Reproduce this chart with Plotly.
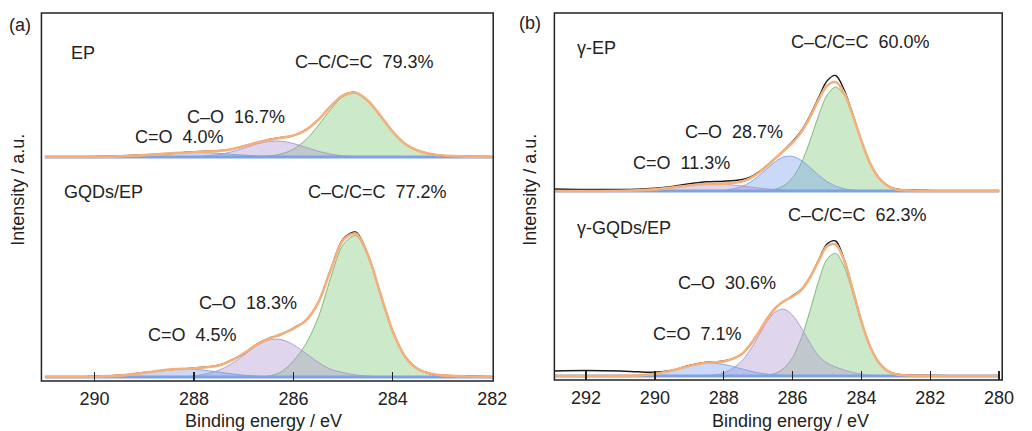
import plotly.graph_objects as go

W, H = 1032, 431

# ---------------- data (intensities above each spectrum's baseline, a.u.) ----------------
energy_a = [291.0, 290.5, 290.0, 289.5, 289.0, 288.5, 288.0, 287.5, 287.25, 287.0, 286.75, 286.5,
            286.25, 286.0, 285.75, 285.5, 285.25, 285.0, 284.75, 284.5, 284.25, 284.0, 283.75,
            283.5, 283.25, 283.0, 282.5, 282.0]

ep_cc = [0, 0, 0, 0, 0, 0, 0, 0, 0.01, 0.06, 0.25, 0.95, 3.0, 7.9, 17.2, 31.4, 47.7, 60.4, 63.8,
         56.1, 41.2, 25.2, 12.9, 6.5, 3.0, 1.5, 0.4, 0.1]
ep_co = [0, 0, 0, 0, 0, 0.02, 0.3, 2.5, 5.1, 8.8, 12.8, 15.5, 15.8, 13.5, 9.6, 5.8, 2.9, 1.2, 0.4,
         0.1, 0, 0, 0, 0, 0, 0, 0, 0]
ep_cdo = [0, 0.03, 0.13, 0.6, 1.85, 3.6, 4.5, 3.6, 2.7, 1.85, 1.1, 0.6, 0.3, 0.13, 0.05, 0, 0, 0,
          0, 0, 0, 0, 0, 0, 0, 0, 0, 0]
ep_fit = [0.0, 0.0, 0.1, 0.6, 1.9, 3.6, 4.8, 6.1, 7.8, 10.7, 14.2, 17.1, 19.1, 21.5, 26.9, 37.2,
          50.6, 61.6, 64.2, 56.2, 41.2, 25.2, 12.9, 6.5, 3.0, 1.5, 0.4, 0.1]
ep_raw = [0.3, 0.2, 0.4, 0.9, 2.2, 3.4, 5.2, 6.4, 7.6, 11.0, 14.0, 17.4, 19.5, 21.3, 27.3, 37.0,
          50.9, 62.0, 64.6, 56.0, 41.5, 25.0, 13.2, 6.3, 3.2, 1.3, 0.6, 0.2]

gep_cc = [0, 0, 0, 0, 0, 0, 0, 0, 0, 0.03, 0.17, 0.85, 5.0, 16.0, 33.0, 59.6, 99.2, 132.3, 141.4,
          121.0, 83.1, 45.6, 20.1, 8.0, 3.5, 1.6, 0.5, 0.1]
gep_co = [0, 0, 0, 0, 0, 0.09, 1.05, 6.7, 13.1, 21.8, 30.8, 36.9, 37.5, 32.3, 23.6, 14.7, 7.7, 4.5,
          2.0, 0.8, 0.2, 0, 0, 0, 0, 0, 0, 0]
gep_cdo = [0, 0.04, 0.3, 1.4, 4.2, 7.3, 7.7, 4.9, 3.2, 1.8, 0.9, 0.4, 0.2, 0.1, 0, 0, 0, 0, 0, 0,
           0, 0, 0, 0, 0, 0, 0, 0]
gep_fit = [0.0, 0.04, 0.3, 1.4, 4.2, 7.4, 8.75, 11.6, 16.3, 23.6, 31.9, 38.2, 42.7, 48.4, 56.6,
           74.3, 106.9, 136.8, 143.4, 121.8, 83.3, 45.6, 20.1, 8.0, 3.5, 1.6, 0.5, 0.1]
gep_raw = [0.4, 0.3, 0.6, 1.8, 4.5, 7.2, 9.1, 11.9, 16.8, 23.2, 32.4, 38.6, 42.5, 49.0, 56.2, 74.8,
           107.5, 138.0, 145.0, 122.5, 83.0, 45.2, 20.6, 8.3, 3.3, 1.8, 0.7, 0.3]

energy_b = [293.0, 292.0, 291.0, 290.5, 290.0, 289.5, 289.0, 288.5, 288.0, 287.5, 287.25, 287.0,
            286.75, 286.5, 286.25, 286.0, 285.75, 285.5, 285.25, 285.0, 284.75, 284.5, 284.25,
            284.0, 283.75, 283.5, 283.25, 283.0, 282.5, 282.0, 281.0, 280.0]

yep_cc = [0, 0, 0, 0, 0, 0, 0, 0, 0, 0, 0, 0.13, 0.5, 1.8, 5.4, 13.3, 27.8, 49.6, 74.8, 95.8, 104.0,
          95.8, 74.8, 49.6, 27.8, 13.3, 5.4, 1.8, 0.3, 0, 0, 0]
yep_co = [0, 0, 0, 0, 0, 0, 0, 0.07, 0.7, 4.2, 8.4, 14.6, 22.2, 29.4, 34.2, 34.6, 30.7, 23.7, 16.0,
          9.5, 4.9, 2.2, 0.9, 0.3, 0.1, 0, 0, 0, 0, 0, 0, 0]
yep_cdo = [0, 0, 0.18, 0.6, 1.65, 3.4, 5.5, 6.9, 6.7, 5.1, 4.0, 3.0, 2.1, 1.4, 0.85, 0.5, 0.27,
           0.14, 0.07, 0, 0, 0, 0, 0, 0, 0, 0, 0, 0, 0, 0, 0]
yep_fit = [0, 0, 0.2, 0.6, 1.65, 3.4, 5.5, 7.0, 7.4, 9.3, 12.4, 17.7, 24.8, 32.6, 40.5, 48.4, 58.8,
           73.4, 90.9, 105.3, 108.9, 98.0, 75.7, 49.9, 27.9, 13.3, 5.4, 1.8, 0.3, 0, 0, 0]
yep_raw = [2.0, 1.5, 1.6, 1.8, 2.8, 4.6, 7.2, 9.2, 9.8, 11.2, 13.6, 18.6, 25.4, 33.0, 41.0, 49.6,
           60.0, 75.0, 93.0, 110.0, 115.5, 101.0, 76.5, 50.2, 28.0, 13.6, 5.6, 2.0, 0.7, 0.4, 0.2, 0.2]

ygep_cc = [0, 0, 0, 0, 0, 0, 0, 0, 0, 0, 0, 0.2, 0.8, 2.7, 7.7, 18.5, 37.5, 64.5, 94.2, 116.7, 122.6,
           109.2, 82.5, 52.9, 28.8, 13.3, 5.2, 1.7, 0.4, 0.1, 0, 0]
ygep_co = [0, 0, 0, 0, 0, 0, 0.03, 0.36, 2.9, 14.1, 25.2, 39.4, 53.8, 64.2, 66.8, 60.8, 48.3, 33.5,
           20.3, 13.0, 9.0, 6.0, 3.5, 1.8, 0.8, 0.3, 0, 0, 0, 0, 0, 0]
ygep_cdo = [0, 0, 0.1, 0.6, 2.1, 5.5, 10.1, 12.9, 11.6, 7.3, 5.1, 3.2, 1.9, 1.0, 0.5, 0.2, 0.1, 0,
            0, 0, 0, 0, 0, 0, 0, 0, 0, 0, 0, 0, 0, 0]
ygep_fit = [0, 0, 0.1, 0.6, 2.1, 5.5, 10.1, 13.3, 14.5, 21.4, 30.3, 42.8, 56.5, 67.9, 75.0, 79.5,
            85.9, 98.0, 114.5, 129.7, 131.6, 115.2, 86.0, 54.7, 29.6, 13.6, 5.2, 1.7, 0.4, 0.1, 0, 0]
ygep_raw = [5.0, 5.5, 5.0, 4.2, 3.8, 5.8, 10.6, 13.8, 15.0, 21.0, 30.8, 42.4, 57.0, 68.3, 74.6,
            80.2, 86.4, 98.6, 115.6, 132.0, 135.0, 116.4, 86.5, 54.2, 30.0, 13.9, 5.5, 2.0, 0.8,
            0.5, 0.3, 0.3]

ticks_a = [290, 288, 286, 284, 282]
ticks_b = [292, 290, 288, 286, 284, 282, 280]

labels = {
    "a_top": ["EP", "C–C/C=C  79.3%", "C–O  16.7%", "C=O  4.0%"],
    "a_bot": ["GQDs/EP", "C–C/C=C  77.2%", "C–O  18.3%", "C=O  4.5%"],
    "b_top": ["γ-EP", "C–C/C=C  60.0%", "C–O  28.7%", "C=O  11.3%"],
    "b_bot": ["γ-GQDs/EP", "C–C/C=C  62.3%", "C–O  30.6%", "C=O  7.1%"],
}

# ---------------- styles ----------------
GREEN_F, GREEN_L = "rgba(120,200,115,0.38)", "rgba(120,175,110,0.9)"
PURPLE_F, PURPLE_L = "rgba(175,150,210,0.40)", "rgba(170,150,200,0.9)"
BLUE_F, BLUE_L = "rgba(120,160,235,0.40)", "rgba(125,160,225,0.9)"
ORANGE = "#f3b07c"
BASE = "#7fa2e2"
TXT = "#222222"
FONT = "Liberation Sans, Arial, sans-serif"


def px(x):
    return x / W


def py(y):
    return 1 - y / H


fig = go.Figure()


def add_spectrum(xs, cc, co, cdo, fit, raw, xa, ya, co_col, cdo_col):
    def fill(vals, col):
        fig.add_trace(go.Scatter(x=xs, y=vals, xaxis=xa, yaxis=ya, mode="lines",
                                 line=dict(color=col[1], width=1, shape="spline", smoothing=0.9),
                                 fill="tozeroy", fillcolor=col[0], hoverinfo="skip",
                                 showlegend=False))
    fill(cc, (GREEN_F, GREEN_L))
    fill(co, co_col)
    fill(cdo, cdo_col)
    fig.add_trace(go.Scatter(x=[xs[0], xs[-1]], y=[0, 0], xaxis=xa, yaxis=ya, mode="lines",
                             line=dict(color=BASE, width=2.8), showlegend=False))
    fig.add_trace(go.Scatter(x=xs, y=raw, xaxis=xa, yaxis=ya, mode="lines",
                             line=dict(color="#1a1a1a", width=1.4, shape="spline", smoothing=0.9),
                             showlegend=False))
    fig.add_trace(go.Scatter(x=xs, y=fit, xaxis=xa, yaxis=ya, mode="lines",
                             line=dict(color=ORANGE, width=2.6, shape="spline", smoothing=0.9),
                             showlegend=False))


P = (PURPLE_F, PURPLE_L)
B = (BLUE_F, BLUE_L)
add_spectrum(energy_a, ep_cc, ep_co, ep_cdo, ep_fit, ep_raw, "x", "y", P, B)
add_spectrum(energy_a, gep_cc, gep_co, gep_cdo, gep_fit, gep_raw, "x", "y2", P, B)
add_spectrum(energy_b, yep_cc, yep_co, yep_cdo, yep_fit, yep_raw, "x2", "y3", B, P)
add_spectrum(energy_b, ygep_cc, ygep_co, ygep_cdo, ygep_fit, ygep_raw, "x2", "y4", P, B)

# frames (pixels)
fa = (42, 13, 500, 381)
fb = (562, 13, 1016, 380)
split_a, split_b = 197, 200

xcommon = dict(showgrid=False, zeroline=False, showline=False, ticks="inside", ticklen=9,
               tickwidth=1.3, tickcolor="#222", ticklabelstandoff=5,
               tickfont=dict(size=18, color=TXT, family=FONT))
ycommon = dict(visible=False, showgrid=False, zeroline=False, fixedrange=True)

fig.update_layout(
    width=W, height=H, margin=dict(l=0, r=0, t=0, b=0),
    paper_bgcolor="white", plot_bgcolor="rgba(0,0,0,0)",
    font=dict(family=FONT, color=TXT, size=18),
    xaxis=dict(domain=[px(fa[0]), px(fa[2])], range=[291.07, 281.98], anchor="y2",
               tickvals=ticks_a, **xcommon),
    xaxis2=dict(domain=[px(fb[0]), px(fb[2])], range=[292.92, 279.91], anchor="y4",
                tickvals=ticks_b, **xcommon),
    yaxis=dict(domain=[py(split_a), py(fa[1])], range=[-40, 144], anchor="x", **ycommon),
    yaxis2=dict(domain=[py(fa[3]), py(split_a)], range=[-4, 180], anchor="x", **ycommon),
    yaxis3=dict(domain=[py(split_b), py(fb[1])], range=[-9, 178], anchor="x2", **ycommon),
    yaxis4=dict(domain=[py(fb[3]), py(split_b)], range=[-4, 176], anchor="x2", **ycommon),
)

for f in (fa, fb):
    fig.add_shape(type="rect", xref="paper", yref="paper", x0=px(f[0]), x1=px(f[2]),
                  y0=py(f[3]), y1=py(f[1]), line=dict(color="#222", width=1.5), layer="above")


def ann(text, x, y, angle=0, anchor="left"):
    fig.add_annotation(text=text.replace("  ", "\u00a0\u00a0"), xref="paper", yref="paper",
                       x=px(x), y=py(y), xanchor=anchor, yanchor="middle", showarrow=False,
                       textangle=angle, font=dict(size=18, color=TXT, family=FONT))


ann("(a)", 7, 25)
ann("(b)", 524, 23)
ann("Intensity / a.u.", 18, 190, angle=-90, anchor="center")
ann("Intensity / a.u.", 537, 190, angle=-90, anchor="center")
ann("Binding energy / eV", 267, 421, anchor="center")
ann("Binding energy / eV", 801, 421, anchor="center")

pos = {
    "a_top": [(70, 53), (297, 62), (188, 117), (135, 137)],
    "a_bot": [(63, 192), (310, 192), (200, 303), (148, 335)],
    "b_top": [(583, 48), (800, 42), (692, 132), (640, 163)],
    "b_bot": [(583, 228), (797, 215), (685, 283), (660, 334)],
}
for k, texts in labels.items():
    for t, (x, y) in zip(texts, pos[k]):
        ann(t, x, y)

fig.write_html(
    "out.html",
    config={"displayModeBar": False, "staticPlot": True},
    post_script="document.body.style.margin='0';document.body.style.padding='0';"
                "document.body.style.overflow='hidden';",
)
